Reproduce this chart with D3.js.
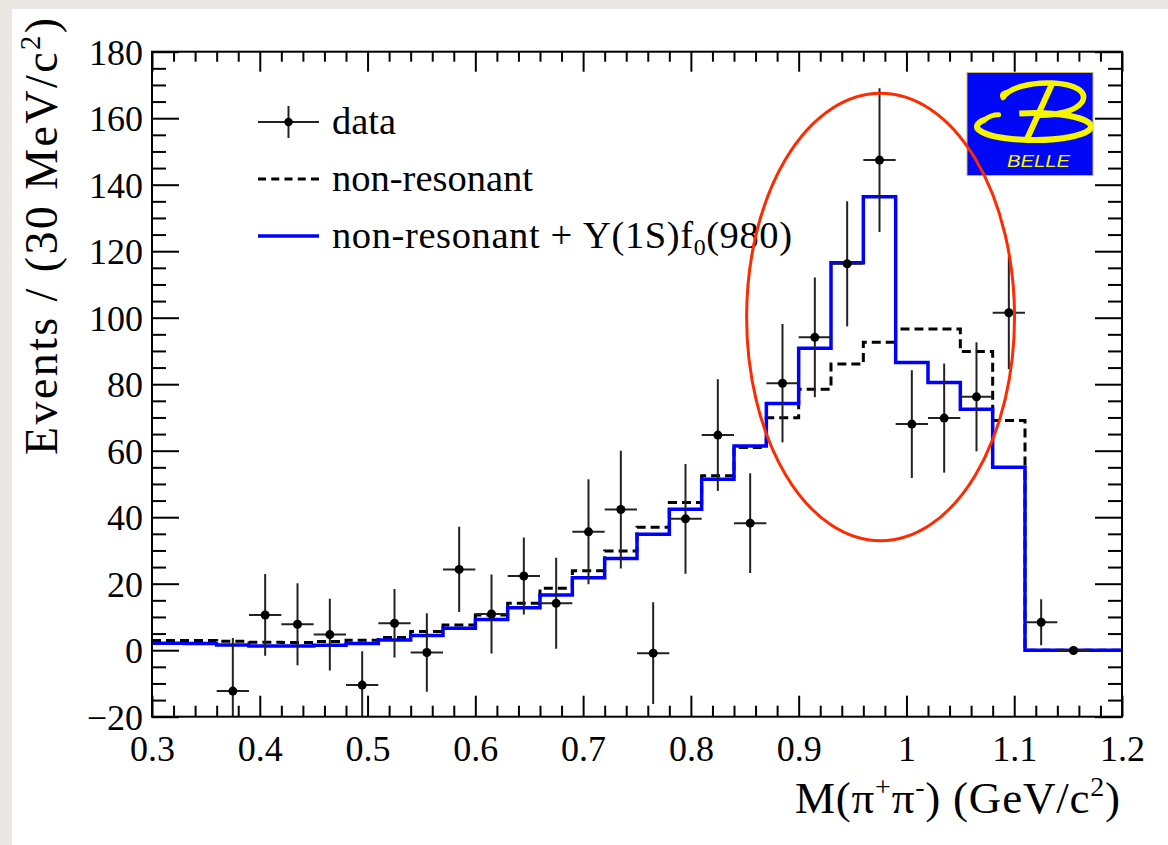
<!DOCTYPE html>
<html>
<head>
<meta charset="utf-8">
<script src="https://cdn.jsdelivr.net/npm/d3@7"></script>
<style>
html,body{margin:0;padding:0;background:#ebe8e3;}
svg{display:block;}
</style>
</head>
<body>
<svg id="chart" width="1168" height="845"></svg>
<script>
// ---------------- data ----------------
const binEdges = [0.30,0.33,0.36,0.39,0.42,0.45,0.48,0.51,0.54,0.57,0.60,0.63,0.66,0.69,0.72,0.75,0.78,0.81,0.84,0.87,0.90,0.93,0.96,0.99,1.02,1.05,1.08,1.11,1.14,1.17,1.20];
const nonResonant = [2.9,2.9,2.7,2.4,2.3,2.6,3.0,3.8,5.6,7.6,10.6,14.1,18.6,23.9,29.8,37.0,44.4,52.5,61.0,69.9,78.5,86.1,92.6,96.6,96.6,89.8,69.1,0,0,0];
const withSignal  = [2.1,2.0,1.6,1.3,1.3,1.5,2.0,3.1,4.4,6.6,9.2,12.8,16.6,21.8,27.6,34.9,42.4,51.4,61.4,74.2,90.8,116.5,136.4,86.5,80.5,72.5,55.0,0,0,0];
const dataX   = [0.375,0.405,0.435,0.465,0.495,0.525,0.555,0.585,0.615,0.645,0.675,0.705,0.735,0.765,0.795,0.825,0.855,0.885,0.915,0.945,0.975,1.005,1.035,1.065,1.095,1.125,1.155];
const dataY   = [-12.3,10.6,7.8,4.7,-10.5,8.1,-0.7,24.3,10.9,22.3,14.1,35.6,42.3,-0.9,39.5,64.7,38.2,80.3,94.1,116.2,147.4,68.0,69.8,76.2,101.5,8.4,-0.1];
const dataErr = [16,12.3,12.3,10.8,10.2,10.3,11.8,12.8,11.9,11.6,13.7,15.8,17.7,15.3,16.5,16.8,15.0,17.8,18.0,18.8,21.6,16.2,16.4,16.4,17.0,6.9,0.8];
const binHalfWidth = 0.015;
const xTickValues = [0.3,0.4,0.5,0.6,0.7,0.8,0.9,1.0,1.1,1.2];
const xTickLabels = ["0.3","0.4","0.5","0.6","0.7","0.8","0.9","1","1.1","1.2"];
const yTickValues = [-20,0,20,40,60,80,100,120,140,160,180];
const yTickLabels = ["\u221220","0","20","40","60","80","100","120","140","160","180"];
const legendLabels = ["data","non-resonant","non-resonant + \u03A5(1S)f\u2080(980)"];
const ellipseCenter = [0.976, 100.2];
const ellipseRadii  = [0.1243, 67.3];

// ---------------- layout ----------------
const svg = d3.select("#chart");
const L = 152, R = 1122, T = 51.7, B = 716.7;
const x = d3.scaleLinear().domain([0.3,1.2]).range([L,R]);
const y = d3.scaleLinear().domain([-20,180]).range([B,T]);
const serif = "'Liberation Serif','Times New Roman',serif";

// card
svg.append("rect").attr("x",12).attr("y",9).attr("width",1168).attr("height",845).attr("fill","#ffffff");

svg.append("defs").append("clipPath").attr("id","plotclip")
  .append("rect").attr("x",L).attr("y",T).attr("width",R-L).attr("height",B-T);

// ---------------- axes ----------------
const minorX = d3.range(0.3, 1.2001, 0.02).filter(v => Math.abs(Math.round(v*10)/10 - v) > 1e-6);
const minorY = d3.range(-20, 180.001, 5).filter(v => v % 20 !== 0);

function styleAxis(g){
  g.select(".domain").remove();
  g.selectAll(".tick line").attr("stroke","#000").attr("stroke-width",2);
}
function noText(g){ g.selectAll("text").remove(); }
// bottom
svg.append("g").attr("transform",`translate(0,${B})`)
  .call(d3.axisBottom(x).tickValues(minorX).tickSize(-11).tickFormat(""))
  .call(styleAxis).call(noText);
const gxb = svg.append("g").attr("transform",`translate(0,${B})`)
  .call(d3.axisBottom(x).tickValues(xTickValues).tickSize(-21).tickFormat((d,i)=>xTickLabels[i]))
  .call(styleAxis);
gxb.selectAll(".tick text").attr("y",44).attr("dy",null)
  .attr("font-family",serif).attr("font-size",36).attr("fill","#000");
// top
svg.append("g").attr("transform",`translate(0,${T})`)
  .call(d3.axisTop(x).tickValues(minorX).tickSize(-10).tickFormat(""))
  .call(styleAxis).call(noText);
svg.append("g").attr("transform",`translate(0,${T})`)
  .call(d3.axisTop(x).tickValues(xTickValues).tickSize(-20).tickFormat(""))
  .call(styleAxis).call(noText);
// left
svg.append("g").attr("transform",`translate(${L},0)`)
  .call(d3.axisLeft(y).tickValues(minorY).tickSize(-14).tickFormat(""))
  .call(styleAxis).call(noText);
const gyl = svg.append("g").attr("transform",`translate(${L},0)`)
  .call(d3.axisLeft(y).tickValues(yTickValues).tickSize(-27).tickFormat((d,i)=>yTickLabels[i]))
  .call(styleAxis);
gyl.selectAll(".tick text").attr("x",-9).attr("dy",null).attr("y",12.5)
  .attr("font-family",serif).attr("font-size",36).attr("fill","#000");
// right
svg.append("g").attr("transform",`translate(${R},0)`)
  .call(d3.axisRight(y).tickValues(minorY).tickSize(-14).tickFormat(""))
  .call(styleAxis).call(noText);
svg.append("g").attr("transform",`translate(${R},0)`)
  .call(d3.axisRight(y).tickValues(yTickValues).tickSize(-27).tickFormat(""))
  .call(styleAxis).call(noText);

// ---------------- histograms ----------------
const plot = svg.append("g").attr("clip-path","url(#plotclip)");
function stepPts(vals){
  const pts = vals.map((v,i)=>[binEdges[i], v]);
  pts.push([binEdges[binEdges.length-1], vals[vals.length-1]]);
  return pts;
}
const stepLine = d3.line().x(d=>x(d[0])).y(d=>y(d[1])).curve(d3.curveStepAfter);
plot.append("path").attr("d",stepLine(stepPts(nonResonant)))
  .attr("fill","none").attr("stroke","#000").attr("stroke-width",3).attr("stroke-dasharray","9,5");
plot.append("path").attr("d",stepLine(stepPts(withSignal)))
  .attr("fill","none").attr("stroke","#0000ff").attr("stroke-width",3.5);

// ---------------- data points ----------------
const pts = dataX.map((d,i)=>({x:d, y:dataY[i], e:dataErr[i]}));
const pg = plot.append("g");
pg.selectAll("line.v").data(pts).join("line")
  .attr("x1",d=>x(d.x)).attr("x2",d=>x(d.x)).attr("y1",d=>y(d.y+d.e)).attr("y2",d=>y(d.y-d.e))
  .attr("stroke","#222").attr("stroke-width",2);
pg.selectAll("line.h").data(pts).join("line")
  .attr("x1",d=>x(d.x-binHalfWidth)).attr("x2",d=>x(d.x+binHalfWidth)).attr("y1",d=>y(d.y)).attr("y2",d=>y(d.y))
  .attr("stroke","#222").attr("stroke-width",2);
pg.selectAll("circle").data(pts).join("circle")
  .attr("cx",d=>x(d.x)).attr("cy",d=>y(d.y)).attr("r",4.5).attr("fill","#000");

// frame
svg.append("rect").attr("x",L).attr("y",T).attr("width",R-L).attr("height",B-T)
  .attr("fill","none").attr("stroke","#000").attr("stroke-width",2);

// ---------------- rich text helper ----------------
function rich(sel, parts, fs){
  let cur = 0;
  parts.forEach(p=>{
    let target = 0, size = null;
    if(p.s==="sup"){ target = -fs*0.38; size = fs*0.62; }
    else if(p.s==="sub"){ target = fs*0.2; size = fs*0.62; }
    const ts = sel.append("tspan").text(p.t);
    if(target - cur !== 0) ts.attr("dy", target - cur);
    if(size) ts.attr("font-size", size);
    cur = target;
  });
}

// axis titles
const xt = svg.append("text").attr("x",1120).attr("y",813).attr("text-anchor","end")
  .attr("font-family",serif).attr("font-size",45).attr("fill","#000")
  .attr("textLength",325).attr("lengthAdjust","spacing");
rich(xt,[{t:"M(\u03C0"},{t:"+",s:"sup"},{t:"\u03C0"},{t:"-",s:"sup"},{t:") (GeV/c"},{t:"2",s:"sup"},{t:")"}],45);

const yt = svg.append("text").attr("transform","translate(57,18) rotate(-90)").attr("text-anchor","end")
  .attr("font-family",serif).attr("font-size",46).attr("fill","#000")
  .attr("textLength",437).attr("lengthAdjust","spacing");
rich(yt,[{t:"Events / (30 MeV/c"},{t:"2",s:"sup"},{t:")"}],46);

// ---------------- legend ----------------
const lg = svg.append("g");
const rowsY = [122,179,236];
const lx1 = 258, lx2 = 319, ltx = 332;
lg.append("line").attr("x1",lx1).attr("x2",lx2).attr("y1",rowsY[0]).attr("y2",rowsY[0]).attr("stroke","#222").attr("stroke-width",2);
lg.append("line").attr("x1",(lx1+lx2)/2).attr("x2",(lx1+lx2)/2).attr("y1",rowsY[0]-16).attr("y2",rowsY[0]+16).attr("stroke","#222").attr("stroke-width",2);
lg.append("circle").attr("cx",(lx1+lx2)/2).attr("cy",rowsY[0]).attr("r",4.2).attr("fill","#000");
lg.append("line").attr("x1",lx1).attr("x2",lx2).attr("y1",rowsY[1]).attr("y2",rowsY[1]).attr("stroke","#000").attr("stroke-width",3).attr("stroke-dasharray","8,5.25");
lg.append("line").attr("x1",lx1).attr("x2",lx2).attr("y1",rowsY[2]).attr("y2",rowsY[2]).attr("stroke","#0000ff").attr("stroke-width",3.5);

legendLabels.forEach((lab,i)=>{
  const t = lg.append("text").attr("x",ltx).attr("y",rowsY[i]+11.5)
    .attr("font-family",serif).attr("font-size",38.5).attr("fill","#000");
  if(i===2){
    t.attr("textLength",460).attr("lengthAdjust","spacing");
    rich(t,[{t:"non-resonant + \u03A5(1S)f"},{t:"0",s:"sub"},{t:"(980)"}],38.5);
  } else t.text(lab);
});

// ---------------- Belle logo ----------------
const logo = svg.append("g");
logo.append("rect").attr("x",967).attr("y",72.5).attr("width",126).attr("height",103)
  .attr("fill","#0008f5").attr("stroke","#c9b56a").attr("stroke-width",1);
const yel = "#f7f400";
(function(){
  const cx=1034, cy=126.5, rx=57, ry=13.5;
  const a0 = 150*Math.PI/180, a1 = 105*Math.PI/180;
  const sx = cx + rx*Math.cos(a0), sy = cy - ry*Math.sin(a0);
  const ex = cx + rx*Math.cos(a1), ey = cy - ry*Math.sin(a1);
  logo.append("path").attr("d",`M${sx},${sy} A${rx},${ry} 0 1 0 ${ex},${ey}`)
    .attr("fill","none").attr("stroke",yel).attr("stroke-width",6);
  logo.append("path").attr("d",`M${sx},${sy} Q${sx+6},${sy-5} ${sx+14},${sy-5}`)
    .attr("fill","none").attr("stroke",yel).attr("stroke-width",5).attr("stroke-linecap","round");
})();
logo.append("path").attr("d","M1003,98 C1008,88 1030,82 1052,83 C1076,84 1088,92 1082,102 C1076,111 1056,116 1036,115")
  .attr("fill","none").attr("stroke",yel).attr("stroke-width",5.5);
logo.append("path").attr("d","M1003,98 Q1000,93 1008,92")
  .attr("fill","none").attr("stroke",yel).attr("stroke-width",4.5).attr("stroke-linecap","round");
logo.append("path").attr("d","M1052,84 L1027,139")
  .attr("fill","none").attr("stroke",yel).attr("stroke-width",6);
logo.append("text").attr("x",1007).attr("y",167).attr("textLength",63).attr("lengthAdjust","spacingAndGlyphs")
  .attr("font-family","'Liberation Sans',Arial,sans-serif").attr("font-style","italic")
  .attr("font-size",17).attr("fill",yel).text("BELLE");

// ---------------- red ellipse annotation ----------------
svg.append("ellipse")
  .attr("cx",x(ellipseCenter[0])).attr("cy",y(ellipseCenter[1]))
  .attr("rx",x(ellipseCenter[0]+ellipseRadii[0])-x(ellipseCenter[0]))
  .attr("ry",y(ellipseCenter[1])-y(ellipseCenter[1]+ellipseRadii[1]))
  .attr("fill","none").attr("stroke","#ff2a00").attr("stroke-width",3);
</script>
</body>
</html>
